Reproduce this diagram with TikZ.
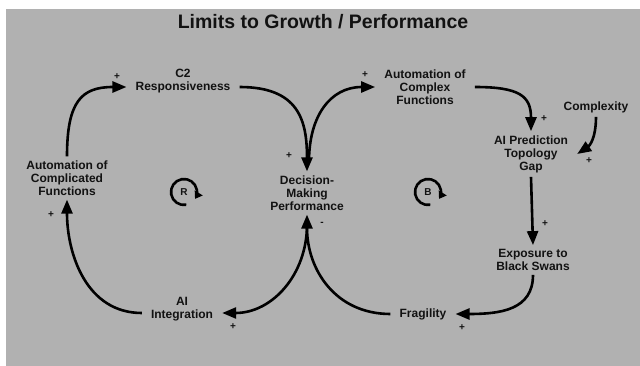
\documentclass[tikz,border=0pt]{standalone}
\usepackage{fontspec}
\setmainfont{Liberation Sans}
\usetikzlibrary{arrows.meta}
\definecolor{bg}{RGB}{177,177,177}
\definecolor{ink}{RGB}{18,18,18}
\begin{document}
\begin{tikzpicture}[x=1pt,y=-1pt,
  lbl/.style={font=\bfseries\fontsize{12}{13}\selectfont, align=center, text=ink, inner xsep=9pt, inner ysep=4pt},
  ttl/.style={font=\bfseries\fontsize{19.5}{22}\selectfont, text=ink, inner sep=0pt},
  arr/.style={draw=black, line width=2.6pt, -{Triangle[length=14pt,width=11pt]}},
  sgn/.style={font=\bfseries\fontsize{10}{10}\selectfont, text=ink, inner sep=0pt},
  loopsym/.style={font=\bfseries\fontsize{10}{10}\selectfont, text=ink, inner sep=0pt},
  looparc/.style={draw=black, line width=2.6pt, -{Triangle[length=7pt,width=9pt]}}]
\useasboundingbox[fill=white] (0,0) rectangle (640,366);
\fill[bg] (6,9) rectangle (640,366);

\node[ttl] (title) at (323,22) {Limits to Growth / Performance};

\node[lbl] (c2) at (183,81) {C2\\Responsiveness};
\node[lbl] (acx) at (425,87) {Automation of\\Complex\\Functions};
\node[lbl] (cpx) at (596,107) {Complexity};
\node[lbl] (aip) at (531,154) {AI Prediction\\Topology\\Gap};
\node[lbl] (acd) at (67,178) {Automation of\\Complicated\\Functions};
\node[lbl] (dmp) at (307,193) {Decision-\\Making\\Performance};
\node[lbl] (exp) at (533,260) {Exposure to\\Black Swans};
\node[lbl] (aii) at (182,309) {AI\\Integration};
\node[lbl] (frag) at (423,314) {Fragility};

\node[loopsym] (R) at (184,192) {R};
\node[loopsym] (B) at (428,192) {B};
\draw[looparc] (R.center) ++(80:13) arc[start angle=80, end angle=392, radius=13];
\draw[looparc] (B.center) ++(80:13) arc[start angle=80, end angle=392, radius=13];

\node[sgn] (p1) at (117,77) {+};
\node[sgn] (p2) at (289,156) {+};
\node[sgn] (p3) at (365,75) {+};
\node[sgn] (p4) at (544,119) {+};
\node[sgn] (p5) at (589,161) {+};
\node[sgn] (p6) at (51,215) {+};
\node[sgn] (m1) at (322,224) {-};
\node[sgn] (p7) at (545,224) {+};
\node[sgn] (p8) at (462,328) {+};
\node[sgn] (p9) at (233,327) {+};

\draw[arr] ([yshift=-4pt]aii.west) .. controls +(-55,0) and +(0,55) .. (acd.south);
\draw[arr] (acd.north) .. controls +(0,-55) and +(-45,0) .. ([yshift=-6pt]c2.west);
\draw[arr] ([yshift=-6pt]c2.east) .. controls +(60,0) and +(0,-50) .. (dmp.north);
\draw[arr] ([xshift=2pt,yshift=10pt]dmp.north) .. controls +(0,-45) and +(-45,0) .. (acx.west);
\draw[arr] (acx.east) .. controls +(45,0) and +(0,-35) .. (aip.north);
\draw[arr] (cpx.south) .. controls +(0,22) and +(12,-8) .. (aip.east);
\draw[arr] (aip.south) -- (exp.north);
\draw[arr] (exp.south) .. controls +(0,35) and +(45,0) .. (frag.east);
\draw[arr] (frag.west) .. controls +(-55,0) and +(0,55) .. (dmp.south);
\draw[arr] ([yshift=-10pt]dmp.south) .. controls +(0,50) and +(50,0) .. ([yshift=-4pt]aii.east);
\end{tikzpicture}
\end{document}
